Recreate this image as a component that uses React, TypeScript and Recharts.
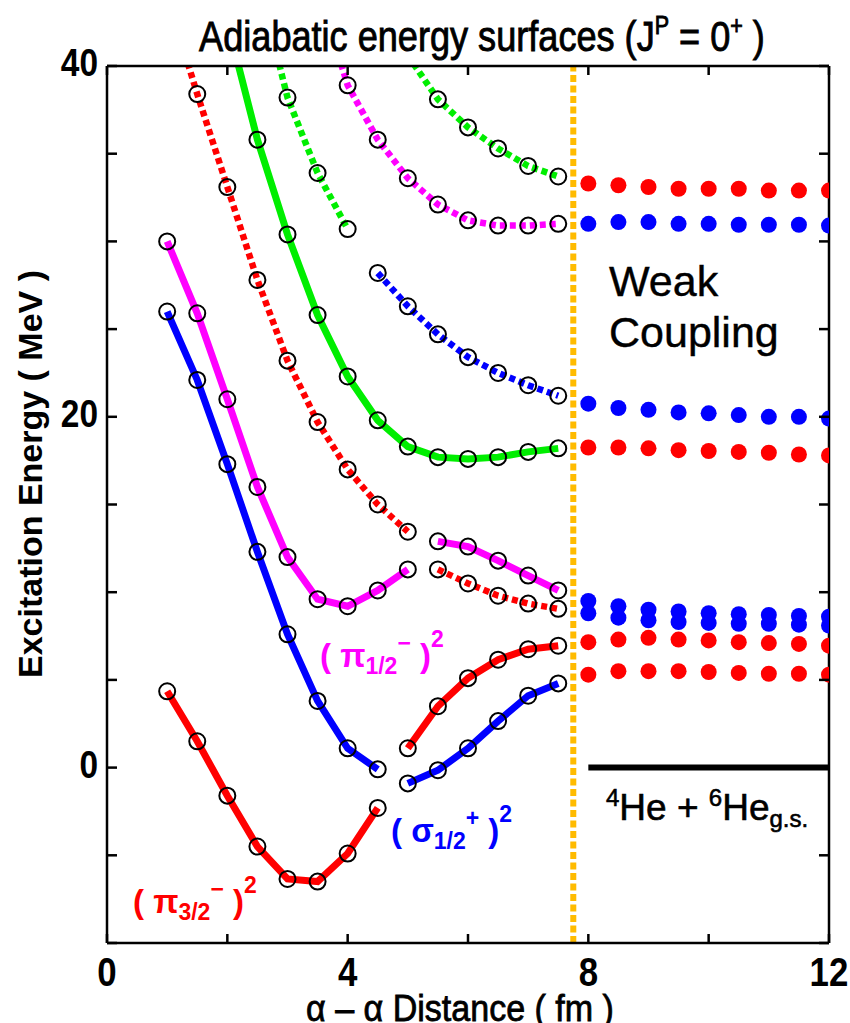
import React from 'react';
import { ComposedChart, Line, XAxis, YAxis, ReferenceLine } from 'recharts';

// ---------- data ----------
const X_1_45 = [1, 1.5, 2, 2.5, 3, 3.5, 4, 4.5];
const X_1_5 = [1, 1.5, 2, 2.5, 3, 3.5, 4, 4.5, 5];
const X_2_75 = [2, 2.5, 3, 3.5, 4, 4.5, 5, 5.5, 6, 6.5, 7, 7.5];
const X_25_4 = [2.5, 3, 3.5, 4];
const X_35_75 = [3.5, 4, 4.5, 5, 5.5, 6, 6.5, 7, 7.5];
const X_45_75 = [4.5, 5, 5.5, 6, 6.5, 7, 7.5];
const X_5_75 = [5, 5.5, 6, 6.5, 7, 7.5];
const X_55_75 = [5.5, 6, 6.5, 7, 7.5];
const X_WEAK = [8, 8.5, 9, 9.5, 10, 10.5, 11, 11.5, 12];

// strong-coupling curves (MeV)
const pi32Left = [4.35, 1.5, -1.6, -4.5, -6.35, -6.5, -4.9, -2.3];
const sigmaLeft = [26.0, 22.1, 17.3, 12.3, 7.6, 3.8, 1.1, -0.1];
const pi12Left = [30.0, 25.9, 21.0, 16.0, 12.0, 9.6, 9.2, 10.1, 11.3];
const redDotUpper = [44.0, 38.4, 33.1, 27.8, 23.2, 19.7, 17.0, 15.0, 13.45];
const greenSolid = [42.5, 35.8, 30.4, 25.8, 22.3, 19.8, 18.3, 17.7, 17.6, 17.7, 18.0, 18.2];
const greenDotLeft = [45.1, 38.2, 33.9, 30.7];
const magentaDotUpper = [44.5, 38.9, 35.8, 33.6, 32.1, 31.2, 30.9, 30.9, 31.0];
const greenDotUpper = [40.6, 38.1, 36.5, 35.3, 34.3, 33.7];
const blueDotUpper = [28.2, 26.3, 24.7, 23.4, 22.5, 21.8, 21.2];
const pi12Right = [12.9, 12.6, 11.8, 10.95, 10.1];
const redDotRight = [11.3, 10.5, 9.8, 9.35, 9.05];
const redSolidRight = [1.1, 3.5, 5.1, 6.15, 6.75, 6.95];
const sigmaRight = [-0.9, -0.15, 1.1, 2.65, 4.1, 4.8];

// weak-coupling levels
const weakRed1 = [33.3, 33.2, 33.1, 33.0, 33.0, 33.0, 32.9, 32.9, 32.9];
const weakBlue1 = [31.0, 31.1, 31.1, 31.0, 31.0, 30.95, 30.95, 30.95, 30.9];
const weakBlue2 = [20.75, 20.5, 20.4, 20.25, 20.2, 20.1, 20.0, 20.0, 19.9];
const weakRed2 = [18.25, 18.25, 18.2, 18.1, 18.05, 18.0, 17.95, 17.85, 17.8];
const weakBlue3 = [9.5, 9.2, 9.0, 8.9, 8.8, 8.75, 8.7, 8.65, 8.6];
const weakBlue4 = [8.8, 8.55, 8.4, 8.3, 8.25, 8.2, 8.2, 8.15, 8.1];
const weakRed3 = [7.15, 7.3, 7.4, 7.3, 7.25, 7.15, 7.1, 7.05, 6.95];
const weakRed4 = [5.3, 5.5, 5.5, 5.5, 5.45, 5.4, 5.35, 5.35, 5.3];

const boundaryX = 7.75;
const thresholdX = [8, 12];
const thresholdY = 0;

const X_TICKS = [0, 2, 4, 6, 8, 10, 12];
const X_TICK_LABELS = [0, 4, 8, 12];
const Y_TICKS = [-10, -5, 0, 5, 10, 15, 20, 25, 30, 35, 40];
const Y_TICK_LABELS = [0, 20, 40];

// ---------- helpers ----------
const RED = '#ff0000';
const BLUE = '#0000ff';
const MAGENTA = '#ff00ff';
const GREEN = '#00ee00';
const ORANGE = '#ffbb00';
const FONT = '"Liberation Sans", Arial, Helvetica, sans-serif';

const zip = (xs: number[], ys: number[]) => xs.map((x, i) => ({ x, y: ys[i] }));

type Curve = { name: string; data: { x: number; y: number }[]; color: string; dashed: boolean };

const curves: Curve[] = [
  { name: 'pi32Left', data: zip(X_1_45, pi32Left), color: RED, dashed: false },
  { name: 'sigmaLeft', data: zip(X_1_45, sigmaLeft), color: BLUE, dashed: false },
  { name: 'pi12Left', data: zip(X_1_5, pi12Left), color: MAGENTA, dashed: false },
  { name: 'redDotUpper', data: zip(X_1_5, redDotUpper), color: RED, dashed: true },
  { name: 'greenSolid', data: zip(X_2_75, greenSolid), color: GREEN, dashed: false },
  { name: 'greenDotLeft', data: zip(X_25_4, greenDotLeft), color: GREEN, dashed: true },
  { name: 'magentaDotUpper', data: zip(X_35_75, magentaDotUpper), color: MAGENTA, dashed: true },
  { name: 'greenDotUpper', data: zip(X_5_75, greenDotUpper), color: GREEN, dashed: true },
  { name: 'blueDotUpper', data: zip(X_45_75, blueDotUpper), color: BLUE, dashed: true },
  { name: 'pi12Right', data: zip(X_55_75, pi12Right), color: MAGENTA, dashed: false },
  { name: 'redDotRight', data: zip(X_55_75, redDotRight), color: RED, dashed: true },
  { name: 'redSolidRight', data: zip(X_5_75, redSolidRight), color: RED, dashed: false },
  { name: 'sigmaRight', data: zip(X_5_75, sigmaRight), color: BLUE, dashed: false },
];

const weakLevels = [
  { name: 'weakRed1', data: zip(X_WEAK, weakRed1), color: RED },
  { name: 'weakBlue1', data: zip(X_WEAK, weakBlue1), color: BLUE },
  { name: 'weakBlue2', data: zip(X_WEAK, weakBlue2), color: BLUE },
  { name: 'weakRed2', data: zip(X_WEAK, weakRed2), color: RED },
  { name: 'weakBlue3', data: zip(X_WEAK, weakBlue3), color: BLUE },
  { name: 'weakBlue4', data: zip(X_WEAK, weakBlue4), color: BLUE },
  { name: 'weakRed3', data: zip(X_WEAK, weakRed3), color: RED },
  { name: 'weakRed4', data: zip(X_WEAK, weakRed4), color: RED },
];

const TICK_LEN = 9;
const AXIS_W = 2.5;

const BottomTick = (props: any) => {
  const { x, y, payload } = props;
  const show = X_TICK_LABELS.includes(payload.value);
  return (
    <g>
      <line x1={x} x2={x} y1={y} y2={y - TICK_LEN} stroke="#000" strokeWidth={AXIS_W} />
      {show && (
        <text
          transform={`translate(${x} ${y + 43}) scale(0.85 1)`}
          textAnchor="middle"
          fontSize={41}
          fontWeight="bold"
          fontFamily={FONT}
          fill="#000"
        >
          {payload.value}
        </text>
      )}
    </g>
  );
};

const TopTick = (props: any) => {
  const { x, y } = props;
  return <line x1={x} x2={x} y1={y} y2={y + TICK_LEN} stroke="#000" strokeWidth={AXIS_W} />;
};

const LeftTick = (props: any) => {
  const { x, y, payload } = props;
  const show = Y_TICK_LABELS.includes(payload.value);
  return (
    <g>
      <line x1={x} x2={x + TICK_LEN + 1} y1={y} y2={y} stroke="#000" strokeWidth={AXIS_W} />
      {show && (
        <text
          transform={`translate(${x - 9} ${y + 10}) scale(0.88 1)`}
          textAnchor="end"
          fontSize={38}
          fontWeight="bold"
          fontFamily={FONT}
          fill="#000"
        >
          {payload.value}
        </text>
      )}
    </g>
  );
};

const RightTick = (props: any) => {
  const { x, y } = props;
  return <line x1={x} x2={x - TICK_LEN - 1} y1={y} y2={y} stroke="#000" strokeWidth={AXIS_W} />;
};

const Overlay = () => (
  <svg
    width={850}
    height={1023}
    style={{ position: 'absolute', left: 0, top: 0, pointerEvents: 'none' }}
    fontFamily={FONT}
  >
    {/* title */}
    <text
      transform="translate(482 51) scale(0.86 1)"
      textAnchor="middle"
      fontSize={42}
      fill="#000"
      stroke="#000"
      strokeWidth={0.9}
    >
      Adiabatic energy surfaces (J
      <tspan fontSize={25} dy={-17}>P</tspan>
      <tspan dy={17}> = 0</tspan>
      <tspan fontSize={25} dy={-17}>+</tspan>
      <tspan dy={17}> )</tspan>
    </text>
    {/* y axis title */}
    <text transform="translate(42 474) rotate(-90)" textAnchor="middle" fontSize={34} fontWeight="bold" fill="#000">
      Excitation Energy ( MeV )
    </text>
    {/* x axis title */}
    <text
      transform="translate(460 1021) scale(0.92 1)"
      textAnchor="middle"
      fontSize={37}
      fill="#000"
      stroke="#000"
      strokeWidth={0.8}
    >
      {'\u03b1 \u2013 \u03b1  Distance ( fm )'}
    </text>
    {/* weak coupling */}
    <text x={609} y={296} fontSize={43} fill="#000" stroke="#000" strokeWidth={0.4}>Weak</text>
    <text x={609} y={347} fontSize={43} fill="#000" stroke="#000" strokeWidth={0.4}>Coupling</text>
    {/* threshold label */}
    <text x={606} y={820} fontSize={37} fill="#000" stroke="#000" strokeWidth={0.6}>
      <tspan fontSize={24} dy={-14}>4</tspan>
      <tspan dy={14}>He + </tspan>
      <tspan fontSize={24} dy={-14}>6</tspan>
      <tspan dy={14}>He</tspan>
      <tspan fontSize={24} dy={7}>g.s.</tspan>
    </text>
    {/* configuration labels */}
    <text x={133} y={913} fontSize={33} fontWeight="bold" fill={RED}>
      {'( \u03c0'}
      <tspan fontSize={23} dy={7}>3/2</tspan>
      <tspan fontSize={23} dy={-23}>{'\u2212'}</tspan>
      <tspan dy={16}>{' )'}</tspan>
      <tspan fontSize={23} dy={-20}>2</tspan>
    </text>
    <text x={391} y={842} fontSize={33} fontWeight="bold" fill={BLUE}>
      {'( \u03c3'}
      <tspan fontSize={23} dy={7}>1/2</tspan>
      <tspan fontSize={23} dy={-23}>+</tspan>
      <tspan dy={16}>{' )'}</tspan>
      <tspan fontSize={23} dy={-20}>2</tspan>
    </text>
    <text x={320} y={667} fontSize={33} fontWeight="bold" fill={MAGENTA}>
      {'( \u03c0'}
      <tspan fontSize={23} dy={7}>1/2</tspan>
      <tspan fontSize={23} dy={-23}>{'\u2212'}</tspan>
      <tspan dy={16}>{' )'}</tspan>
      <tspan fontSize={23} dy={-20}>2</tspan>
    </text>
  </svg>
);

export default function App() {
  return (
    <div style={{ position: 'absolute', left: 0, top: 0, width: 850, height: 1023, background: '#fff' }}>
      <ComposedChart width={850} height={1023} margin={{ top: 56, right: 11, bottom: 20, left: 47 }}>
        <XAxis
          xAxisId="b"
          type="number"
          dataKey="x"
          domain={[0, 12]}
          allowDataOverflow
          ticks={X_TICKS}
          interval={0}
          height={60}
          tickSize={0}
          tickMargin={0}
          tickLine={false}
          axisLine={{ stroke: '#000', strokeWidth: AXIS_W }}
          tick={BottomTick}
        />
        <XAxis
          xAxisId="t"
          orientation="top"
          type="number"
          dataKey="x"
          domain={[0, 12]}
          allowDataOverflow
          ticks={X_TICKS}
          interval={0}
          height={10}
          tickSize={0}
          tickMargin={0}
          tickLine={false}
          axisLine={{ stroke: '#000', strokeWidth: AXIS_W }}
          tick={TopTick}
        />
        <YAxis
          yAxisId="l"
          type="number"
          domain={[-10, 40]}
          allowDataOverflow
          ticks={Y_TICKS}
          interval={0}
          width={60}
          tickSize={0}
          tickMargin={0}
          tickLine={false}
          axisLine={{ stroke: '#000', strokeWidth: AXIS_W }}
          tick={LeftTick}
        />
        <YAxis
          yAxisId="r"
          orientation="right"
          type="number"
          domain={[-10, 40]}
          allowDataOverflow
          ticks={Y_TICKS}
          interval={0}
          width={10}
          tickSize={0}
          tickMargin={0}
          tickLine={false}
          axisLine={{ stroke: '#000', strokeWidth: AXIS_W }}
          tick={RightTick}
        />

        <ReferenceLine
          xAxisId="b"
          yAxisId="l"
          x={boundaryX}
          stroke={ORANGE}
          strokeWidth={6}
          strokeDasharray="7 3.5"
        />
        <ReferenceLine
          xAxisId="b"
          yAxisId="l"
          segment={[
            { x: thresholdX[0], y: thresholdY },
            { x: thresholdX[1], y: thresholdY },
          ]}
          stroke="#000"
          strokeWidth={6}
        />

        {weakLevels.map((w) => (
          <Line
            key={w.name}
            xAxisId="b"
            yAxisId="l"
            data={w.data}
            dataKey="y"
            type="linear"
            stroke="none"
            dot={{ r: 8, fill: w.color, stroke: 'none' }}
            activeDot={false}
            isAnimationActive={false}
          />
        ))}

        {curves.map((c) => (
          <Line
            key={c.name + '-pts'}
            xAxisId="b"
            yAxisId="l"
            data={c.data}
            dataKey="y"
            type="linear"
            stroke="none"
            dot={{ r: 8, fill: 'none', stroke: '#000', strokeWidth: 2 }}
            activeDot={false}
            isAnimationActive={false}
          />
        ))}

        {curves.map((c) => (
          <Line
            key={c.name}
            xAxisId="b"
            yAxisId="l"
            data={c.data}
            dataKey="y"
            type="linear"
            stroke={c.color}
            strokeWidth={c.dashed ? 6.5 : 7}
            strokeDasharray={c.dashed ? '6 4' : undefined}
            dot={false}
            activeDot={false}
            isAnimationActive={false}
          />
        ))}
      </ComposedChart>
      <Overlay />
    </div>
  );
}
